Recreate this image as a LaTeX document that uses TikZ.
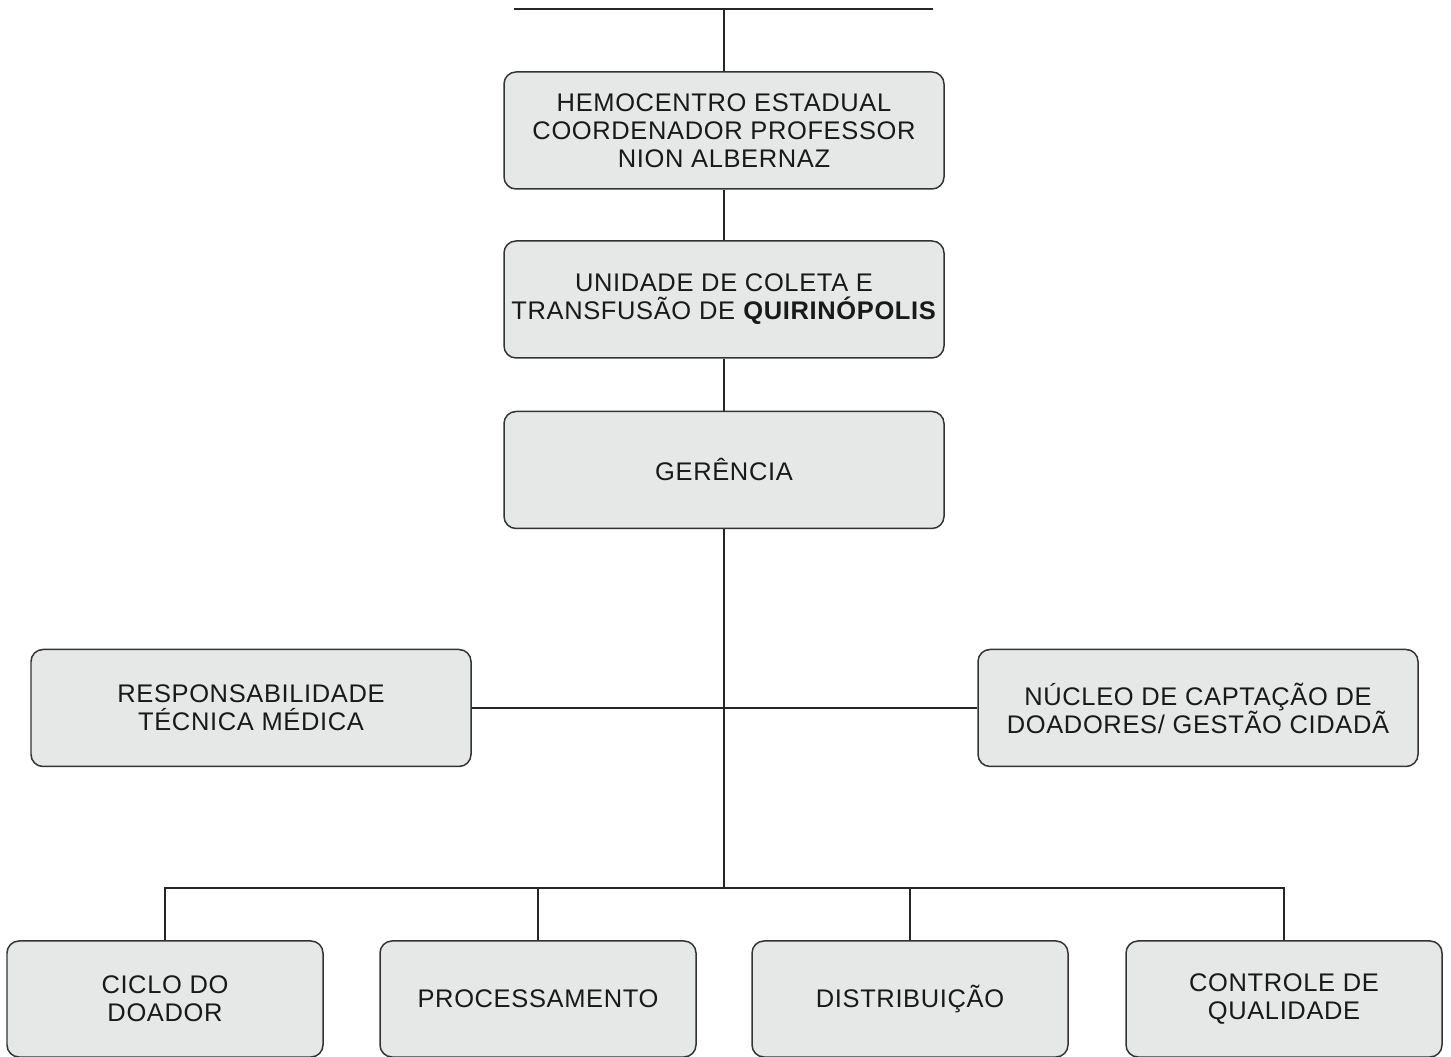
\documentclass[tikz,border=0pt]{standalone}
\usepackage{fontspec}
\setmainfont{Liberation Sans}[LetterSpace=2.5]
\usetikzlibrary{positioning}
\definecolor{boxfill}{RGB}{230,231,231}
\definecolor{boxline}{RGB}{51,51,51}
\tikzset{
	unit/.style={draw=boxline, fill=boxfill, rounded corners=0.24cm, line width=0.85pt,
		minimum width=8.8cm, minimum height=2.34cm, inner sep=0pt, align=center,
		text=black!90, font=\fontsize{14.5}{15.9}\selectfont},
	sector/.style={unit, minimum width=6.32cm, minimum height=2.32cm},
	link/.style={draw=black!85, line width=0.8pt}
}

\begin{document}
\begin{tikzpicture}
	\useasboundingbox (0,0) rectangle (29.02,21.14);

	\coordinate (TL) at (10.28,20.96);
	\coordinate (TR) at (18.66,20.96);
	\coordinate (TM) at (14.48,20.96);
	\coordinate (BUS) at (14.48,3.38);

	\node[unit] (HC) at (14.48,18.53) {HEMOCENTRO ESTADUAL\\COORDENADOR PROFESSOR\\NION ALBERNAZ};
	\node[unit] (UC) at (14.48,15.15) {UNIDADE DE COLETA E\\TRANSFUS\~AO DE \textbf{QUIRIN\'OPOLIS}};
	\node[unit] (GE) at (14.48,11.74) {GER\^ENCIA};

	\node[unit] (RT) at (5.02,6.98) {RESPONSABILIDADE\\T\'ECNICA M\'EDICA};
	\node[unit] (NC) at (23.96,6.98) {N\'UCLEO DE CAPTA\c{C}\~AO DE\\DOADORES/ GEST\~AO CIDAD\~A};

	\node[sector] (CD) at (3.30,1.16) {CICLO DO\\DOADOR};
	\node[sector] (PR) at (10.76,1.16) {PROCESSAMENTO};
	\node[sector] (DI) at (18.20,1.16) {DISTRIBUI\c{C}\~AO};
	\node[sector] (CQ) at (25.68,1.16) {CONTROLE DE\\QUALIDADE};

	\draw[link] (TL) -- (TR);
	\draw[link] (TM) -- (HC.north);
	\draw[link] (HC.south) -- (UC.north);
	\draw[link] (UC.south) -- (GE.north);
	\draw[link] (GE.south) -- (BUS);
	\draw[link] (RT.east) -- (NC.west);

	\draw[link] (CD.north) -- (CD.north |- BUS) -- (CQ.north |- BUS) -- (CQ.north);
	\draw[link] (PR.north) -- (PR.north |- BUS);
	\draw[link] (DI.north) -- (DI.north |- BUS);
\end{tikzpicture}
\end{document}
